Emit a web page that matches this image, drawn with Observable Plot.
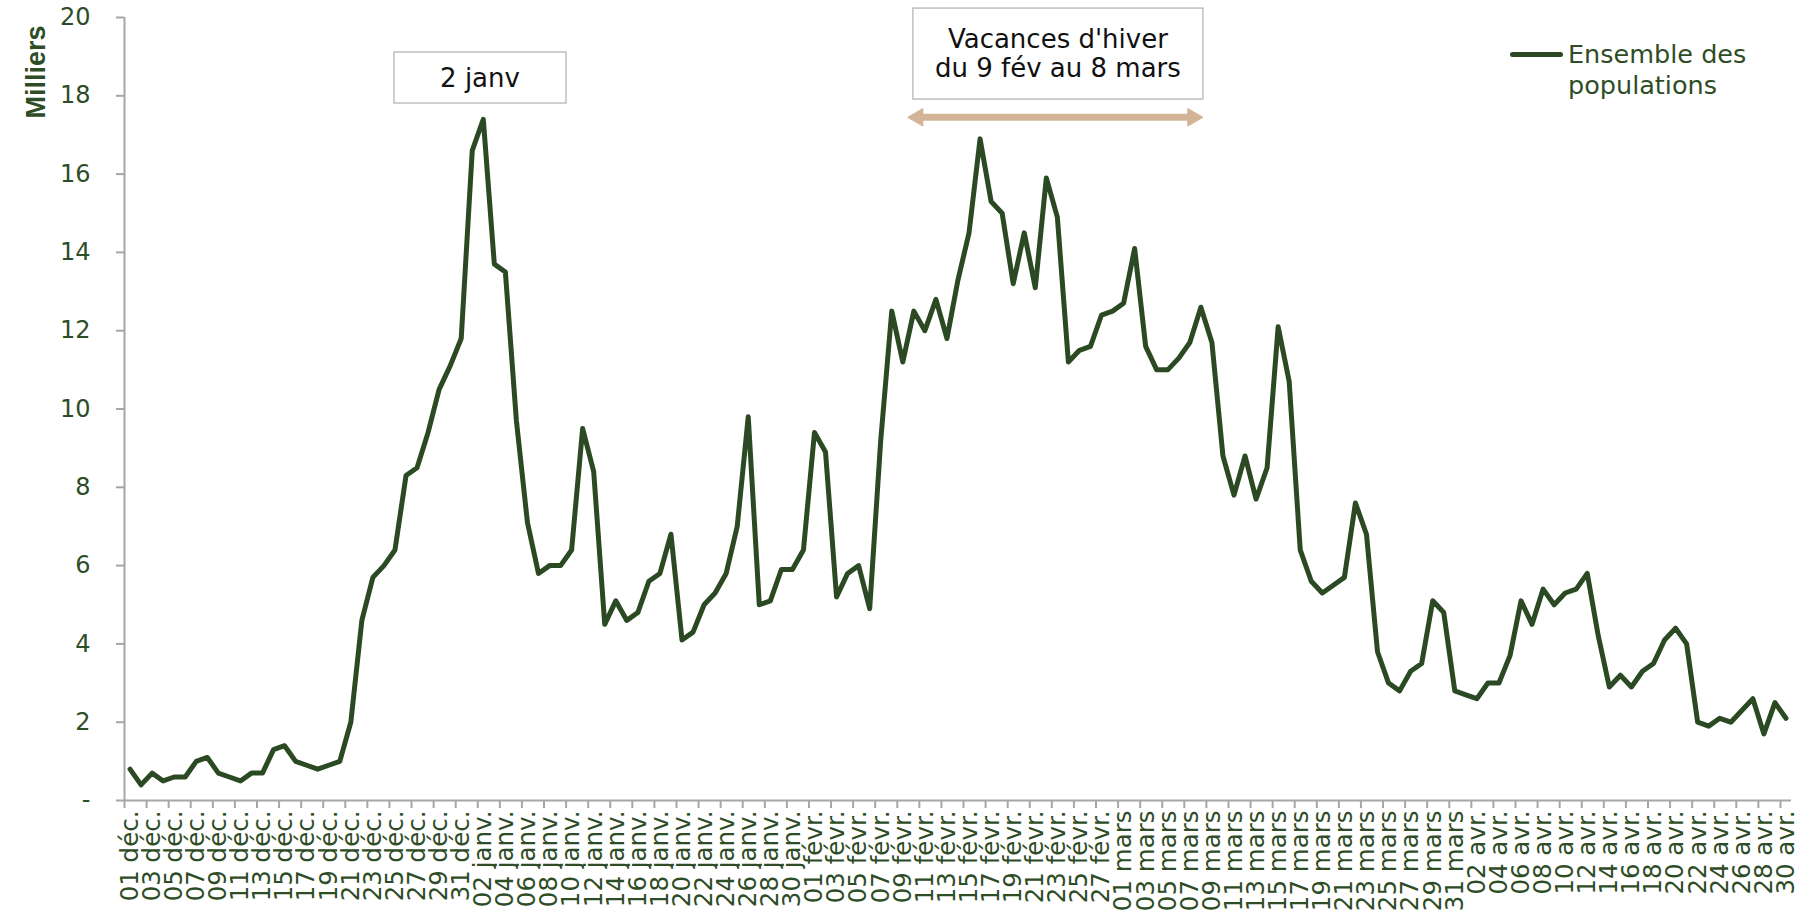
<!DOCTYPE html>
<html>
<head>
<meta charset="utf-8">
<script src="https://cdn.jsdelivr.net/npm/d3@7"></script>
<script src="https://cdn.jsdelivr.net/npm/@observablehq/plot@0.6"></script>
<style>
  html, body { margin: 0; padding: 0; background: #fff; }
  #wrap { position: relative; width: 1815px; height: 922px; overflow: hidden; }
  #legend { position: absolute; left: 1510px; top: 39px; font-family: "DejaVu Sans", sans-serif; font-size: 25.5px; line-height: 31px; color: #2E4D27; }
  #legend .sw { position: absolute; left: 0; top: 13px; width: 53px; height: 5px; border-radius: 3px; background: #2B4A23; }
  #legend .tx { margin-left: 58px; }
</style>
</head>
<body>
<div id="wrap"><div id="legend"><div class="sw"></div><div class="tx">Ensemble des<br>populations</div></div></div>
<script>
// ---- Data ----
const monthNames = ["déc.", "janv.", "févr.", "mars", "avr."];
const monthLengths = [31, 31, 28, 31, 30];
const seriesName = "Ensemble des populations";
const values = [
  0.8, 0.4, 0.7, 0.5, 0.6, 0.6, 1.0, 1.1, 0.7, 0.6, 0.5, 0.7, 0.7, 1.3, 1.4, 1.0, 0.9, 0.8, 0.9, 1.0, 2.0, 4.6, 5.7, 6.0, 6.4,
  8.3, 8.5, 9.4, 10.5, 11.1, 11.8, 16.6, 17.4, 13.7, 13.5, 9.7, 7.1, 5.8, 6.0, 6.0, 6.4, 9.5, 8.4, 4.5, 5.1, 4.6, 4.8, 5.6, 5.8, 6.8, 4.1,
  4.3, 5.0, 5.3, 5.8, 7.0, 9.8, 5.0, 5.1, 5.9, 5.9, 6.4, 9.4, 8.9, 5.2, 5.8, 6.0, 4.9, 9.2, 12.5, 11.2, 12.5, 12.0, 12.8, 11.8,
  13.3, 14.5, 16.9, 15.3, 15.0, 13.2, 14.5, 13.1, 15.9, 14.9, 11.2, 11.5, 11.6, 12.4, 12.5, 12.7, 14.1, 11.6, 11.0, 11.0,
  11.3, 11.7, 12.6, 11.7, 8.8, 7.8, 8.8, 7.7, 8.5, 12.1, 10.7, 6.4, 5.6, 5.3, 5.5, 5.7, 7.6, 6.8, 3.8, 3.0, 2.8, 3.3, 3.5, 5.1, 4.8, 2.8, 2.7,
  2.6, 3.0, 3.0, 3.7, 5.1, 4.5, 5.4, 5.0, 5.3, 5.4, 5.8, 4.2, 2.9, 3.2, 2.9, 3.3, 3.5, 4.1, 4.4, 4.0, 2.0, 1.9, 2.1, 2.0, 2.3, 2.6, 1.7, 2.5, 2.1
];
const yTicks = [0, 2, 4, 6, 8, 10, 12, 14, 16, 18, 20];
const yAxisTitle = "Milliers";
// annotations
const peakLabel = "2 janv";
const peakIndex = 32;
const holidayLabel = "Vacances d'hiver\ndu 9 fév au 8 mars";
const holidayStart = 70;  // 9 févr.
const holidayEnd = 97;    // 8 mars

// ---- Derived tables ----
const dayLabels = [];
monthNames.forEach((m, k) => {
  for (let d = 1; d <= monthLengths[k]; d++) dayLabels.push(String(d).padStart(2, "0") + " " + m);
});
const data = values.map((v, i) => ({i, v, label: dayLabels[i]}));
const labelIdx = d3.range(0, dayLabels.length, 2);
const tickBoundaries = labelIdx.map(i => i - 0.5);

// ---- Styles ----
const FONT = "DejaVu Sans";
const lineColor = "#2B4A23";
const textColor = "#2E4D27";
const axisGray = "#A6A6A6";
const tan = "#D4B496";

const annYPeak = 18.45;
const annYHoliday = 19.08;
const arrowY = 17.45;

const chart = Plot.plot({
  width: 1815,
  height: 922,
  marginLeft: 124,
  marginRight: 24,
  marginTop: 17,
  marginBottom: 122,
  style: {fontFamily: FONT, background: "transparent", overflow: "visible"},
  x: {type: "linear", domain: [-0.5, dayLabels.length - 0.5], axis: null},
  y: {domain: [0, 20], axis: null},
  marks: [
    Plot.ruleY([0], {stroke: axisGray, strokeWidth: 2}),
    Plot.ruleX([-0.5], {stroke: axisGray, strokeWidth: 2}),
    Plot.axisY({ticks: yTicks, tickSize: 8, tickPadding: 26, stroke: axisGray, strokeWidth: 2,
      fill: textColor, fontSize: 24, tickFormat: d => d === 0 ? "-" : String(d), label: null}),
    Plot.axisX({ticks: tickBoundaries, tickSize: 8, stroke: axisGray, strokeWidth: 2, fill: "none", label: null}),
    Plot.axisX({ticks: labelIdx, tickSize: 0, tickPadding: 10, tickRotate: -90, fill: textColor,
      fontSize: 24.5, tickFormat: i => dayLabels[i], label: null}),
    Plot.lineY(data, {x: "i", y: "v", stroke: lineColor, strokeWidth: 5, strokeLinejoin: "round", strokeLinecap: "round"}),
    // holiday arrow
    Plot.ruleY([arrowY], {x1: holidayStart, x2: holidayEnd, insetLeft: 14, insetRight: 8, stroke: tan, strokeWidth: 7}),
    Plot.dot([holidayStart], {x: d => d, y: arrowY, symbol: "triangle", r: 6.5, rotate: -90, dx: 15, fill: tan, stroke: tan, strokeWidth: 1}),
    Plot.dot([holidayEnd], {x: d => d, y: arrowY, symbol: "triangle", r: 6.5, rotate: 90, dx: -8, fill: tan, stroke: tan, strokeWidth: 1}),
    // annotation texts
    Plot.text([peakLabel], {x: peakIndex - 0.3, y: annYPeak, text: d => d, fontSize: 26, fill: "#111", lineAnchor: "middle"}),
    Plot.text([holidayLabel], {x: (holidayStart + holidayEnd) / 2 + 0.55, y: annYHoliday, text: d => d, fontSize: 26, lineHeight: 1.09, fill: "#111", lineAnchor: "middle"}),
    // y-axis title
    Plot.text([yAxisTitle], {frameAnchor: "top-left", text: d => d, rotate: -90, textAnchor: "end", dx: -99, dy: 8,
      fontSize: 27, fontWeight: "bold", fontFamily: "Liberation Sans", fill: textColor})
  ]
});

const wrap = document.getElementById("wrap");
wrap.insertBefore(chart, wrap.firstChild);
chart.style.position = "absolute";
chart.style.left = "0px";
chart.style.top = "0px";

// boxes around annotations (sizes are styling)
const boxSpecs = [
  {start: peakLabel, w: 172, h: 51},
  {start: "Vacances", w: 290, h: 91}
];
chart.querySelectorAll("text").forEach(t => {
  const spec = boxSpecs.find(s => t.textContent.startsWith(s.start));
  if (!spec) return;
  const bb = t.getBBox();
  const cx = bb.x + bb.width / 2, cy = bb.y + bb.height / 2;
  const inv = chart.getScreenCTM().inverse();
  const sp = chart.createSVGPoint(); sp.x = cx; sp.y = cy;
  const s = sp.matrixTransform(t.getScreenCTM()).matrixTransform(inv);
  const rect = document.createElementNS("http://www.w3.org/2000/svg", "rect");
  rect.setAttribute("x", s.x - spec.w / 2);
  rect.setAttribute("y", s.y - spec.h / 2);
  rect.setAttribute("width", spec.w);
  rect.setAttribute("height", spec.h);
  rect.setAttribute("fill", "#fff");
  rect.setAttribute("stroke", "#BFBFBF");
  rect.setAttribute("stroke-width", 1.5);
  const g = t.parentNode;
  g.parentNode.insertBefore(rect, g);
});
</script>
</body>
</html>
